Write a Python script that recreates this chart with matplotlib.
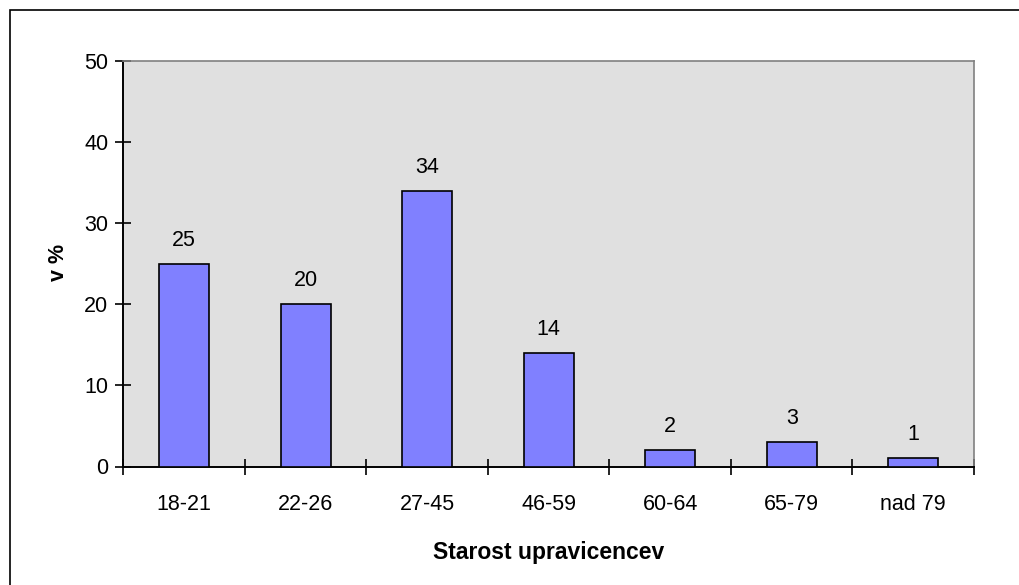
import matplotlib
matplotlib.use("Agg")
import matplotlib.pyplot as plt
from matplotlib.patches import Rectangle
import numpy as np

plt.rcParams['font.family'] = ['Liberation Sans', 'DejaVu Sans']

categories = ["18-21", "22-26", "27-45", "46-59", "60-64", "65-79", "nad 79"]
values = [25, 20, 34, 14, 2, 3, 1]
y_ticks = [0, 10, 20, 30, 40, 50]

W, H = 1020, 585
FS = 15.5
FS_LABEL = 16.5
fig = plt.figure(figsize=(W / 100, H / 100), dpi=100)

# outer frame of the chart area
fig.patches.append(Rectangle((10 / W, -0.05), 1.1, (H - 10) / H + 0.05,
                             transform=fig.transFigure, fill=False,
                             edgecolor='black', linewidth=1.2))

left, right, top, bottom = 123.5, 974, 61, 466.5
ax = fig.add_axes([left / W, 1 - bottom / H, (right - left) / W, (bottom - top) / H])
ax.set_facecolor('#E0E0E0')

x = np.arange(len(categories))
ax.bar(x, values, width=0.41, color='#8080FF', edgecolor='black', linewidth=1.2, zorder=3)
for xi, v in zip(x, values):
    ax.text(xi, v + 1.6, str(v), ha='center', va='bottom', fontsize=FS)

ax.set_xlim(-0.5, len(categories) - 0.5)
ax.set_ylim(0, 50)
ax.set_yticks(y_ticks)
ax.set_yticklabels([str(t) for t in y_ticks], fontsize=FS)

ax.set_xticks(np.arange(len(categories) + 1) - 0.5)
ax.set_xticklabels([])
ax.set_xticks(x, minor=True)
ax.set_xticklabels(categories, minor=True, fontsize=FS)
ax.tick_params(axis='x', which='minor', length=0, pad=20)
ax.tick_params(axis='x', which='major', direction='inout', length=12, width=1.2)
ax.tick_params(axis='y', direction='inout', length=12, width=1.2, pad=5)

for s in ['top', 'right']:
    ax.spines[s].set_color('#808080')
    ax.spines[s].set_linewidth(1.2)
for s in ['left', 'bottom']:
    ax.spines[s].set_color('black')
    ax.spines[s].set_linewidth(1.4)

fig.text(59 / W, 1 - 262 / H, "v %", rotation=90, ha='center', va='center',
         fontsize=FS, fontweight='bold')
fig.text(549 / W, 1 - 552 / H, "Starost upravicencev", ha='center', va='center',
         fontsize=FS_LABEL, fontweight='bold')

fig.savefig("out.png", dpi=100)
